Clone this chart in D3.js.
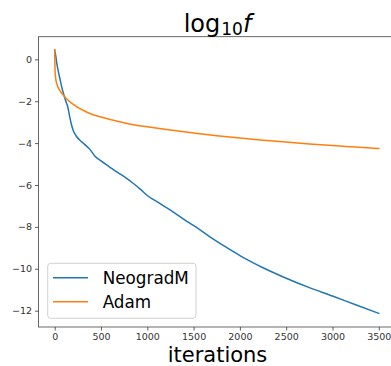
<!DOCTYPE html>
<html><head><meta charset="utf-8">
<script src="https://cdn.jsdelivr.net/npm/d3@7"></script>
<style>body{margin:0;background:#fff}svg{display:block}</style>
</head><body>
<script>
const neogradIter = [0,10,25,40,60,80,105,120,140,160,180,200,230,270,320,380,430,500,590,660,750,850,930,1000,1130,1250,1350,1450,1550,1700,1850,2000,2250,2500,2750,3000,3250,3500];
const neogradVal  = [0.45,0.2,-0.25,-0.6,-1.0,-1.4,-1.78,-2.0,-2.25,-2.7,-3.1,-3.4,-3.65,-3.85,-4.05,-4.3,-4.6,-4.85,-5.13,-5.35,-5.6,-5.93,-6.22,-6.5,-6.87,-7.2,-7.5,-7.8,-8.08,-8.55,-8.97,-9.37,-9.95,-10.45,-10.9,-11.3,-11.72,-12.13];
const adamIter = [0,4,10,25,50,100,150,200,300,400,500,700,850,1000,1250,1500,1750,2000,2250,2500,2750,3000,3250,3500];
const adamVal  = [0.45,-0.6,-0.9,-1.2,-1.45,-1.75,-1.98,-2.15,-2.42,-2.62,-2.75,-2.98,-3.12,-3.22,-3.38,-3.52,-3.65,-3.76,-3.86,-3.95,-4.04,-4.12,-4.19,-4.26];
const xTicks = [0,500,1000,1500,2000,2500,3000,3500];
const yTicks = [0,-2,-4,-6,-8,-10,-12];
const seriesNames = ["NeogradM","Adam"];
const seriesColors = ["#1f77b4","#ff7f0e"];

const W=391,H=366;
const L=38.5,T=36.7,R=395,B=327;
const svg=d3.select("body").append("svg").attr("width",W).attr("height",H);
const x=d3.scaleLinear().domain([-175,3675]).range([L,R]);
const y=d3.scaleLinear().domain([-12.78,1.08]).range([B,T]);

svg.append("clipPath").attr("id","c").append("rect").attr("x",L).attr("y",T).attr("width",R-L).attr("height",B-T);

const line=d3.line().x(d=>x(d[0])).y(d=>y(d[1])).curve(d3.curveMonotoneX);
const series=[neogradIter.map((v,i)=>[v,neogradVal[i]]), adamIter.map((v,i)=>[v,adamVal[i]])];
series.forEach((s,i)=>{
  svg.append("path").attr("d",line(s)).attr("fill","none").attr("stroke",seriesColors[i])
    .attr("stroke-width",1.5).attr("stroke-linejoin","round").attr("stroke-linecap","square").attr("clip-path","url(#c)");
});

const fmt=d=>String(d).replace("-","\u2212");
const xa=svg.append("g").attr("transform",`translate(0,${B})`)
  .call(d3.axisBottom(x).tickValues(xTicks).tickFormat(fmt).tickSize(3.5).tickPadding(3));
const ya=svg.append("g").attr("transform",`translate(${L},0)`)
  .call(d3.axisLeft(y).tickValues(yTicks).tickFormat(fmt).tickSize(3.5).tickPadding(3));
[xa,ya].forEach(a=>{
  a.select(".domain").remove();
  a.selectAll("text").attr("font-family","DejaVu Sans").attr("font-size","9.5px").attr("fill","#333");
  a.selectAll("line").attr("stroke","#333").attr("stroke-width",0.8);
});
svg.append("rect").attr("x",L).attr("y",T).attr("width",R-L).attr("height",B-T)
  .attr("fill","none").attr("stroke","#444").attr("stroke-width",0.8);

// title
const t=svg.append("text").attr("x",217.5).attr("y",31.5).attr("text-anchor","middle")
  .attr("font-family","DejaVu Sans").attr("font-size","24px").attr("fill","#000");
t.append("tspan").text("log");
t.append("tspan").attr("font-size","17px").attr("dy",3).attr("dx",1).text("10");
t.append("tspan").attr("font-style","italic").attr("dy",-3).text("f");

svg.append("text").attr("x",217.5).attr("y",362).attr("text-anchor","middle")
  .attr("font-family","DejaVu Sans").attr("font-size","21px").attr("fill","#000").text("iterations");

// legend
const lg=svg.append("g");
lg.append("rect").attr("x",47.7).attr("y",263.3).attr("width",148.3).attr("height",55).attr("rx",3)
  .attr("fill","#fff").attr("fill-opacity",0.8).attr("stroke","#d0d0d0").attr("stroke-width",1);
seriesNames.forEach((n,i)=>{
  const yy=277.7+i*24;
  lg.append("line").attr("x1",53).attr("x2",88).attr("y1",yy).attr("y2",yy)
    .attr("stroke",seriesColors[i]).attr("stroke-width",1.5);
  lg.append("text").attr("x",102.7).attr("y",yy+6).attr("font-family","DejaVu Sans")
    .attr("font-size","16.8px").attr("fill","#000").text(n);
});
</script>
</body></html>
